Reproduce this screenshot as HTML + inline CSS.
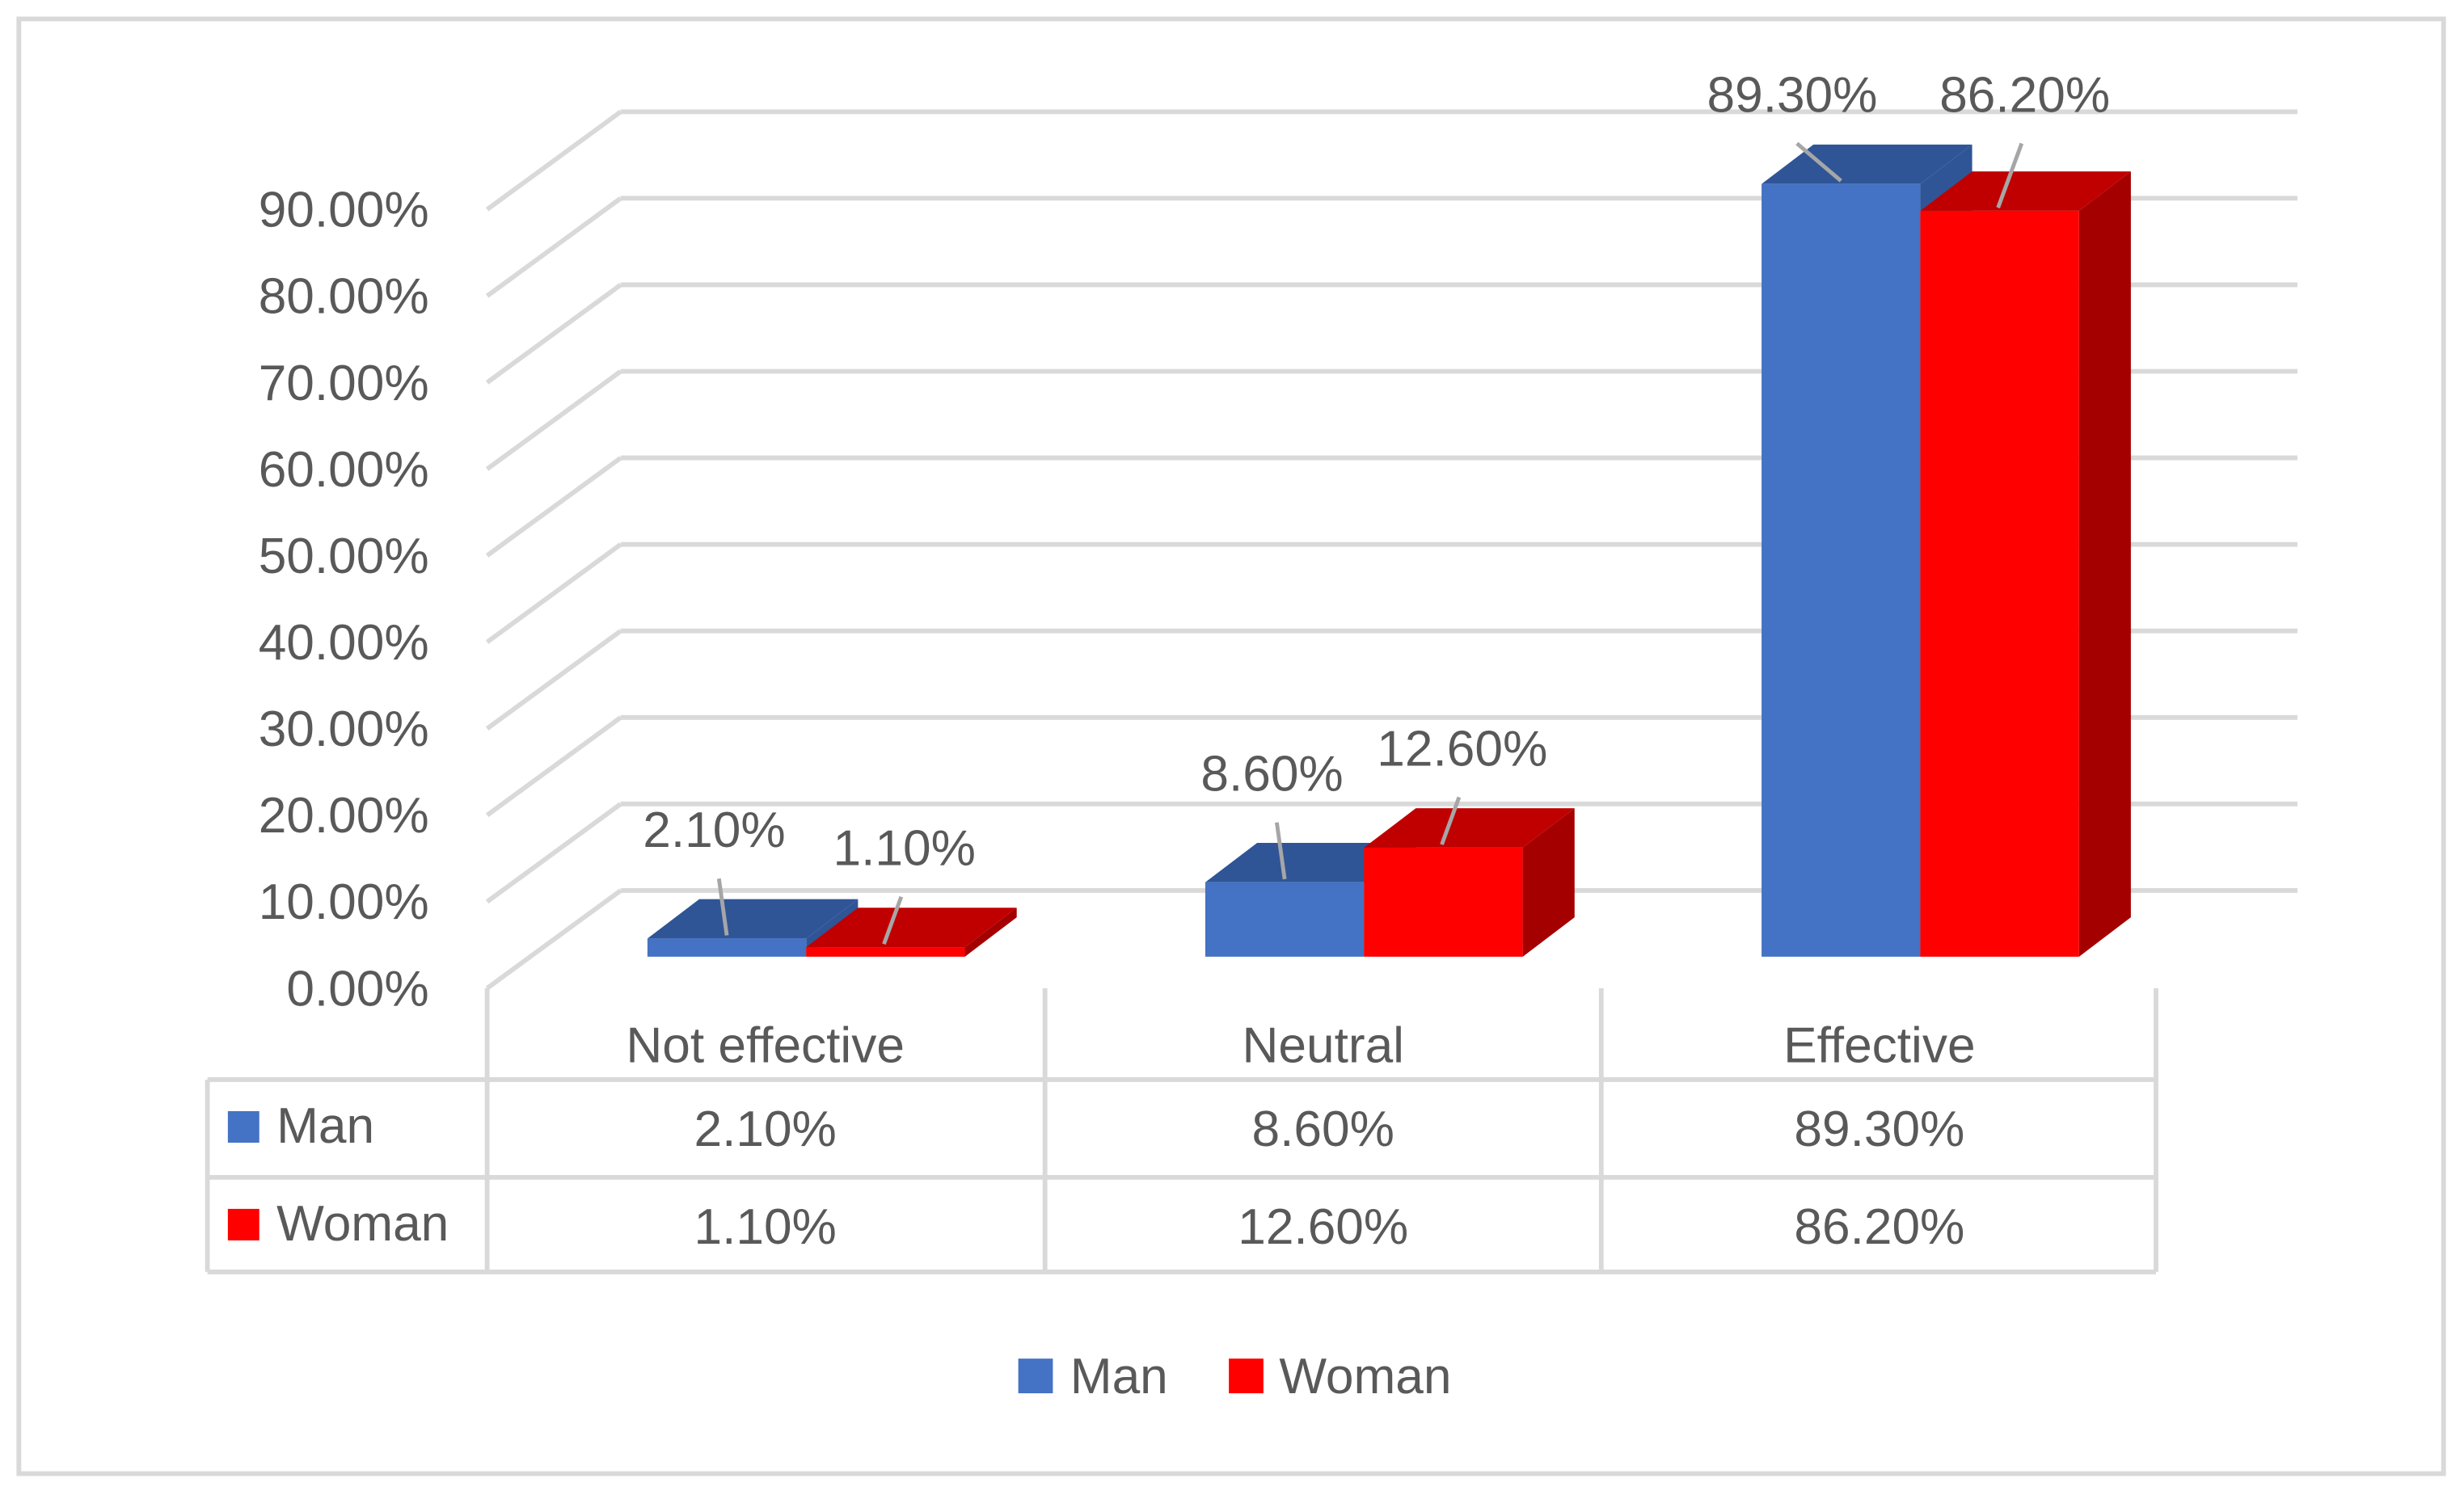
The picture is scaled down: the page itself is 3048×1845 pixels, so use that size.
<!DOCTYPE html>
<html><head><meta charset="utf-8">
<style>
html,body{margin:0;padding:0;background:#fff;}
svg{display:block;}
text{font-family:"Liberation Sans",sans-serif;fill:#595959;}
</style></head>
<body>
<svg id="chart" width="3048" height="1845" viewBox="0 0 1568 946" preserveAspectRatio="none" xmlns="http://www.w3.org/2000/svg">
<rect x="12" y="12" width="1543" height="923" fill="#fff" stroke="#d9d9d9" stroke-width="3"/>
<g id="grid"></g>
<g id="bars"></g>
<g id="labels"></g>
<g id="table"></g>
<g id="legend">
  <rect x="648" y="862" width="22" height="22" fill="#4472c4"/>
  <text x="681" y="884" font-size="32">Man</text>
  <rect x="782" y="862" width="22" height="22" fill="#ff0000"/>
  <text x="814" y="884" font-size="32">Woman</text>
</g>
</svg>
<script>
const categories = ["Not effective", "Neutral", "Effective"];
const manValues = [2.1, 8.6, 89.3];
const womanValues = [1.1, 12.6, 86.2];
const yTicks = [0, 10, 20, 30, 40, 50, 60, 70, 80, 90];
const yTickLabels = ["0.00%","10.00%","20.00%","30.00%","40.00%","50.00%","60.00%","70.00%","80.00%","90.00%"];

const NS = "http://www.w3.org/2000/svg";
const S = 5.49;
function yFront(v){ return 627 - v*S; }
function yBack(v){ return 565 - v*S; }
function yBar(v){ return 607 - v*S; }
const colX = [487, 842, 1196];
function barLeft(ci, si){ return colX[ci] - 75 + si*101; }
function mk(tag, attrs, parent){ const e=document.createElementNS(NS,tag); for(const k in attrs) e.setAttribute(k,attrs[k]); parent.appendChild(e); return e; }

const grid = document.getElementById('grid');
yTicks.forEach((v,i)=>{
  const l = mk('line',{x1:395,y1:yBack(v),x2:1462,y2:yBack(v),stroke:'#d9d9d9','stroke-width':3},grid);
  
  
  const d = mk('line',{x1:310,y1:yFront(v),x2:395,y2:yBack(v),stroke:'#d9d9d9','stroke-width':3},grid);
  
  
  const t = mk('text',{x:273,y:yFront(v)+11,'text-anchor':'end','font-size':32},grid);
  t.textContent = yTickLabels[i];
  
  
});

const bars = document.getElementById('bars');
const DX=33, DY=-25, W=101;
const series = [
  {vals:manValues, front:'#4472c4', top:'#2f5597', side:'#2f5597', name:'man'},
  {vals:womanValues, front:'#ff0000', top:'#c00000', side:'#a50000', name:'woman'}
];
categories.forEach((c,ci)=>{
  series.forEach((s,si)=>{
    const x = barLeft(ci,si), yt = yBar(s.vals[ci]), yb = 607;
    const g = mk('g',{},bars);
    
    
    mk('polygon',{points:`${x+W},${yt} ${x+W+DX},${yt+DY} ${x+W+DX},${yb+DY} ${x+W},${yb}`,fill:s.side},g);
    mk('polygon',{points:`${x},${yt} ${x+DX},${yt+DY} ${x+W+DX},${yt+DY} ${x+W},${yt}`,fill:s.top},g);
    mk('rect',{x:x,y:yt,width:W,height:yb-yt,fill:s.front},g);
  });
});

const labels = document.getElementById('labels');
categories.forEach((c,ci)=>{
  series.forEach((s,si)=>{
    const v = s.vals[ci];
    const cx = barLeft(ci,si)+W/2;
    const topY = yBar(v);
    let ly = topY - (si===0 ? 58 : 52);
    let lx = cx + (si===0 ? -8 : 12);
    if (ly < 100) { ly = 71; lx = cx + (si===0 ? -31 : 16); }
    const ln = mk('line',{x1:lx+(si===0?3:-2),y1:ly+20,x2:cx+(si===0?0:-1),y2:topY-2,stroke:'#a6a6a6','stroke-width':2.5},labels);
    
    
    const t = mk('text',{x:lx,y:ly,'text-anchor':'middle','font-size':32},labels);
    t.textContent = v.toFixed(2)+'%';
    
    
  });
});

const table = document.getElementById('table');
const tl = (x1,y1,x2,y2)=>{ const l=mk('line',{x1,y1,x2,y2,stroke:'#d9d9d9','stroke-width':3},table);
  
   };
[310,665,1019,1372].forEach(x=>tl(x,627,x,807));
tl(132,685,132,807);
[685,747,807].forEach(y=>tl(132,y,1372,y));
categories.forEach((c,ci)=>{
  const t = mk('text',{x:colX[ci],y:674,'text-anchor':'middle','font-size':32},table);
  t.textContent = c;
  
  
});
series.forEach((s,si)=>{
  const ry = 715 + si*62;
  const sw = mk('rect',{x:145,y:ry-10,width:20,height:20,fill:s.front},table);
  
  
  const rl = mk('text',{x:176,y:ry+10,'font-size':32},table);
  rl.textContent = si===0?'Man':'Woman';
  
  
  categories.forEach((c,ci)=>{
    const t = mk('text',{x:colX[ci],y:ry+12,'text-anchor':'middle','font-size':32},table);
    t.textContent = s.vals[ci].toFixed(2)+'%';
    
    
  });
});
</script>
</body></html>
